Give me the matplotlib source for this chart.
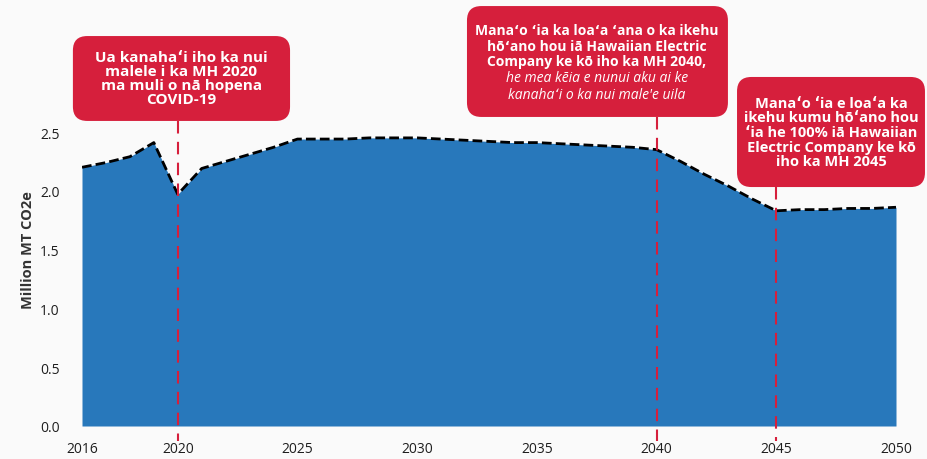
import matplotlib
matplotlib.use("Agg")
import matplotlib.pyplot as plt
from matplotlib.patches import FancyBboxPatch

plt.rcParams['font.family'] = ['Open Sans', 'DejaVu Sans']

## data (million MT CO2e)
years = list(range(2016, 2051))
emissions = [2.20, 2.24, 2.29, 2.41, 1.97, 2.19, 2.25, 2.31, 2.37, 2.44,
             2.44, 2.44, 2.45, 2.45, 2.45, 2.44, 2.43, 2.42, 2.41, 2.41,
             2.40, 2.39, 2.38, 2.37, 2.35, 2.25, 2.14, 2.04, 1.93, 1.83,
             1.84, 1.84, 1.85, 1.85, 1.86]
xticks = [2016, 2020, 2025, 2030, 2035, 2040, 2045, 2050]
yticks = [0.0, 0.5, 1.0, 1.5, 2.0, 2.5]
ylabel = "Million MT CO2e"

note_2020 = "Ua kanahaʻi iho ka nui\nmalele i ka MH 2020\nma muli o nā hopena\nCOVID-19"
note_2040_bold = "Manaʻo ʻia ka loaʻa ʻana o ka ikehu\nhōʻano hou iā Hawaiian Electric\nCompany ke kō iho ka MH 2040,"
note_2040_ital = "he mea kēia e nunui aku ai ke\nkanahaʻi o ka nui male'e uila"
note_2045 = "Manaʻo ʻia e loaʻa ka\nikehu kumu hōʻano hou\nʻia he 100% iā Hawaiian\nElectric Company ke kō\niho ka MH 2045"

blue = "#2878bb"
red = "#d61f3c"
bg = "#fafafa"

fig = plt.figure(figsize=(9.27, 4.6), dpi=100, facecolor=bg)
ax = fig.add_axes([82/927, 33/460, 814/927, 427/460])
ax.set_facecolor(bg)

ax.fill_between(years, emissions, 0, color=blue, lw=0, zorder=2)
ax.plot(years, emissions, color="black", lw=2, dashes=(3.5, 1.5), zorder=3)

ax.set_xlim(2016, 2050)
ax.set_ylim(0, 3.631)
ax.set_xticks(xticks)
ax.set_yticks(yticks)
ax.set_yticklabels(["%.1f" % v for v in yticks])
ax.tick_params(length=0, labelsize=10, colors="#1e1e1e")
ax.tick_params(axis="x", pad=11)
ax.tick_params(axis="y", pad=16)
for s in ax.spines.values():
    s.set_visible(False)
fig.text(28/927, 210/460, ylabel, rotation=90, ha="center", va="center",
         fontsize=10.5, fontweight="bold", color="#333333")

# callouts
asp = 23.94 / 117.6


def callout(x0, x1, y0, y1, xline):
    box = FancyBboxPatch((x0, y0), x1 - x0, y1 - y0,
                         boxstyle="round,pad=0,rounding_size=0.6",
                         mutation_aspect=asp, fc=red, ec="none",
                         clip_on=False, zorder=5)
    ax.add_patch(box)
    ax.plot([xline, xline], [y0, -0.128], color=red, lw=1.5,
            dashes=(6, 4), clip_on=False, zorder=4)


callout(2015.62, 2024.69, 2.594, 3.316, 2020)
ax.text(2020.15, 2.955, note_2020, ha="center", va="center", color="white",
        fontsize=11, fontweight="bold", linespacing=1.0, zorder=6)

callout(2032.08, 2042.98, 2.628, 3.571, 2040)
ax.text(2037.51, 3.235, note_2040_bold, ha="center", va="center", color="white",
        fontsize=10, fontweight="bold", linespacing=1.16, zorder=6, clip_on=False)
ax.text(2037.51, 2.891, note_2040_ital, ha="center", va="center", color="white",
        fontsize=10, style="italic", linespacing=1.16, zorder=6)

callout(2043.36, 2051.21, 2.032, 2.968, 2045)
ax.text(2047.29, 2.50, note_2045, ha="center", va="center", color="white",
        fontsize=10.5, fontweight="bold", linespacing=1.05, zorder=6, clip_on=False)

fig.savefig("out.png", dpi=100, facecolor=bg)
